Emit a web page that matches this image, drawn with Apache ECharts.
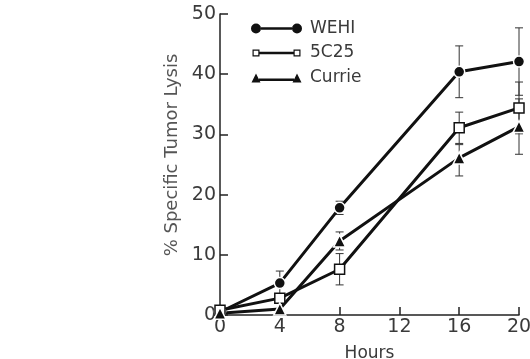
<!DOCTYPE html>
<html><head><meta charset="utf-8">
<script src="https://cdn.jsdelivr.net/npm/echarts@6/dist/echarts.min.js"></script>
<style>html,body{margin:0;padding:0;background:#fff}#c{width:530px;height:359px}</style>
</head><body><div id="c"></div>
<script>
const hours = [0, 4, 8, 16, 20];
const xTicks = [0, 4, 8, 12, 16, 20];
const yTicks = [0, 10, 20, 30, 40, 50];
const wehi = [0.5, 5.3, 17.8, 40.4, 42.1];
const c5c25 = [0.8, 2.8, 7.6, 31.1, 34.4];
const currie = [0.3, 1.0, 12.3, 26.1, 31.3];
// error bars: [hour, low, high]
const wehiErr = [[4, 3.3, 7.3], [8, 16.7, 18.9], [16, 36.1, 44.7], [20, 36.5, 47.7]];
const c5c25Err = [[8, 5.0, 10.2], [16, 28.5, 33.7], [20, 30.1, 38.7]];
const currieErr = [[8, 10.8, 13.8], [16, 23.1, 28.3], [20, 26.7, 35.9]];

const pair = (ys) => hours.map((h, i) => [h, ys[i]]);
const errSeries = (data) => ({
  type: 'custom', z: 1, silent: true,
  data: data,
  renderItem: function (params, api) {
    const x = api.value(0);
    const lo = api.coord([x, api.value(1)]);
    const hi = api.coord([x, api.value(2)]);
    const w = 4;
    const st = { stroke: '#333', lineWidth: 1 };
    return { type: 'group', children: [
      { type: 'line', shape: { x1: lo[0], y1: lo[1], x2: hi[0], y2: hi[1] }, style: st },
      { type: 'line', shape: { x1: lo[0] - w, y1: lo[1], x2: lo[0] + w, y2: lo[1] }, style: st },
      { type: 'line', shape: { x1: hi[0] - w, y1: hi[1], x2: hi[0] + w, y2: hi[1] }, style: st }
    ]};
  }
});

const iconCircle = 'path://M0,5 A5,5 0 1,0 10,5 A5,5 0 1,0 0,5 Z M41,5 A5,5 0 1,0 51,5 A5,5 0 1,0 41,5 Z M10,3.8 L41,3.8 L41,6.2 L10,6.2 Z';
const iconSquare = 'path://M1.5,1.5 L8.5,1.5 L8.5,8.5 L1.5,8.5 Z M2.7,2.7 L2.7,7.3 L7.3,7.3 L7.3,2.7 Z M42.5,1.5 L49.5,1.5 L49.5,8.5 L42.5,8.5 Z M43.7,2.7 L43.7,7.3 L48.3,7.3 L48.3,2.7 Z M8.5,3.8 L42.5,3.8 L42.5,6.2 L8.5,6.2 Z M0,0 L0,0.01 L0.01,0 Z M51,10 L51,9.99 L50.99,10 Z';
const iconTri = 'path://M0.5,10 L5,1 L9.5,10 Z M41.5,10 L46,1 L50.5,10 Z M8,6 L43,6 L43,8.4 L8,8.4 Z M0,0 L0,0.01 L0.01,0 Z M51,10 L51,9.99 L50.99,10 Z';

const chart = echarts.init(document.getElementById('c'));
const font = 'DejaVu Sans, Verdana, sans-serif';
const txt = '#3a3a3a';
chart.setOption({
  animation: false,
  backgroundColor: '#fff',
  grid: { left: 220, right: 11, top: 14, bottom: 44, outerBoundsMode: 'none', containLabel: false },
  legend: {
    orient: 'vertical', left: 246, top: 15, itemGap: 7.5,
    itemWidth: 51, itemHeight: 10, itemSymbolKeepAspect: false,
    textStyle: { fontFamily: font, fontSize: 17, color: txt, padding: [0, 0, 0, 3] },
    data: [
      { name: 'WEHI', icon: iconCircle, itemStyle: { color: '#111', borderWidth: 0 } },
      { name: '5C25', icon: iconSquare, itemStyle: { color: '#111', borderWidth: 0 } },
      { name: 'Currie', icon: iconTri, itemStyle: { color: '#111', borderWidth: 0 } }
    ]
  },
  xAxis: {
    type: 'value', min: 0, max: 20, interval: 4,
    name: 'Hours', nameLocation: 'middle', nameGap: 30,
    nameTextStyle: { fontFamily: font, fontSize: 17, color: txt },
    axisLine: { lineStyle: { color: '#222', width: 1.5 } },
    axisTick: { inside: true, length: 8, lineStyle: { color: '#222', width: 1.5 } },
    axisLabel: { fontFamily: font, fontSize: 19, color: txt, margin: 3,
      formatter: v => xTicks.includes(v) ? String(v) : '' },
    splitLine: { show: false }
  },
  yAxis: {
    type: 'value', min: 0, max: 50, interval: 10,
    name: '% Specific Tumor Lysis', nameLocation: 'middle', nameGap: 38,
    nameTextStyle: { fontFamily: font, fontSize: 18, color: '#555', padding: [0, 0, 0, 19] },
    axisLine: { show: true, lineStyle: { color: '#222', width: 1.5 } },
    axisTick: { show: true, inside: true, length: 8, lineStyle: { color: '#222', width: 1.5 } },
    axisLabel: { fontFamily: font, fontSize: 19, color: txt, margin: 4,
      formatter: v => yTicks.includes(v) ? String(v) : '' },
    splitLine: { show: false }
  },
  series: [
    errSeries(wehiErr), errSeries(c5c25Err), errSeries(currieErr),
    { name: 'WEHI', type: 'line', z: 3, data: pair(wehi), symbol: 'circle', symbolSize: 11,
      lineStyle: { color: '#111', width: 3 },
      itemStyle: { color: '#111', borderColor: '#fff', borderWidth: 1.5 } },
    { name: '5C25', type: 'line', z: 3, data: pair(c5c25), symbol: 'rect', symbolSize: 10,
      lineStyle: { color: '#111', width: 3 },
      itemStyle: { color: '#fff', borderColor: '#111', borderWidth: 1.5 } },
    { name: 'Currie', type: 'line', z: 3, data: pair(currie), symbol: 'triangle', symbolSize: 12,
      lineStyle: { color: '#111', width: 3 },
      itemStyle: { color: '#111', borderColor: '#fff', borderWidth: 1.5 } }
  ]
});
</script></body></html>
